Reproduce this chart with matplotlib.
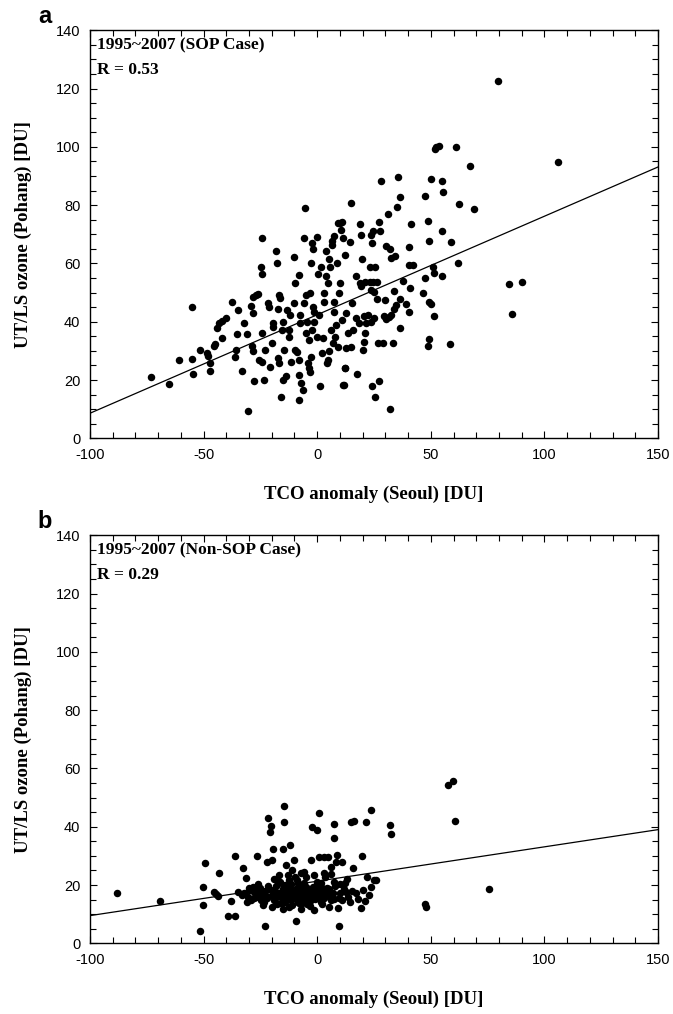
import numpy as np
import matplotlib.pyplot as plt
from matplotlib.ticker import MultipleLocator

plt.rcParams['axes.unicode_minus'] = False

# ---- panel a: SOP case (TCO anomaly vs UT/LS ozone) ----
tco_a = [
    -73.2, -65.4, -61.0, -54.9, -54.9, -54.6, -51.5, -48.5, -48.2, -47.4, -47.4, -45.3, -44.9,
    -44.3, -43.4, -41.9, -40.1, -42.1, -37.5, -36.3, -35.7, -34.9, -35.4, -33.2, -32.2, -30.9,
    -30.6, -29.0, -28.4, -26.9, -26.2, -28.1, -28.7, -28.1, -27.9, -25.4, -24.3, -24.7, -24.4,
    -24.3, -24.3, -23.2, -22.8, -21.8, -21.3, -20.7, -20.1, -19.6, -19.3, -18.1, -17.9, -17.4,
    -17.4, -16.6, -16.6, -16.2, -15.4, -15.1, -15.9, -14.9, -14.4, -13.7, -13.4, -12.6, -12.2,
    -11.9, -11.6, -10.4, -10.0, -9.6, -9.6, -9.0, -8.1, -7.8, -7.8, -7.8, -7.5, -7.4, -7.1,
    -6.3, -6.0, -5.6, -5.3, -5.1, -4.9, -4.4, -4.0, -3.7, -3.4, -3.1, -3.1, -2.8, -2.6, -2.5,
    -2.2, -1.9, -1.9, -1.6, -1.2, -0.1, -0.1, 0.3, 1.0, 1.3, 1.8, 2.2, 2.5, 2.8, 3.2, 3.7,
    4.0, 4.3, 4.6, 4.9, 5.1, 5.4, 5.7, 6.0, 6.3, 6.6, 7.2, 6.9, 7.2, 7.5, 7.8, 8.4, 8.7,
    9.1, 9.9, 11.0, 9.1, 9.6, 9.9, 10.6, 11.0, 11.3, 11.6, 12.1, 12.1, 12.5, 12.8, 13.5,
    14.6, 15.0, 15.0, 15.4,
    79.4, 105.9, 51.9, 52.5, 53.4, 61.2, 67.2, 28.2, 35.6, 50.3, 55.0, 55.4, 36.6, 47.4,
    35.1, 62.5, 69.1, 31.2, 27.1, 27.5, 41.5, 48.8, 55.0, 18.7, 23.8, 24.6, 19.4, 40.3,
    49.3, 59.1, 30.4, 31.9, 24.3, 32.6, 34.1, 19.9, 40.4, 42.2, 51.0, 61.9, 23.1, 25.3,
    47.4, 51.5, 55.0, 37.8, 16.9, 18.7, 19.4, 20.9, 23.1, 24.6, 26.3, 33.8, 40.7, 46.6,
    23.8, 24.9, 26.5, 29.7, 36.3, 49.1, 50.0, 39.3, 34.9, 33.7, 40.4, 84.6, 90.0, 85.6,
    51.5, 31.6, 30.4, 32.6, 29.3, 25.0, 22.4, 23.8, 20.6, 21.6, 18.4, 20.9, 15.7, 16.9,
    36.3, 29.0, 26.8, 33.4, 49.1, 48.8, 58.5, 20.1, 20.4, 17.5, 24.1, 27.1, 25.3, 31.9,
    12.4, 11.3,
]
ozone_a = [
    20.9, 18.8, 26.7, 45.2, 27.2, 22.0, 30.3, 29.4, 28.3, 25.7, 23.2, 31.7, 32.4,
    37.8, 39.5, 40.2, 41.2, 34.3, 46.9, 28.0, 30.3, 44.1, 35.8, 23.2, 39.7, 35.8,
    9.2, 45.5, 48.6, 49.2, 49.5, 42.9, 31.7, 30.1, 19.8, 26.9, 26.3, 58.9, 56.4,
    68.6, 36.0, 20.0, 30.3, 46.3, 44.9, 24.4, 32.8, 38.3, 39.7, 64.4, 60.3, 44.3,
    27.5, 26.0, 49.2, 48.1, 37.2, 40.0, 14.1, 20.0, 30.3, 21.4, 44.1, 37.2, 34.9,
    42.3, 26.3, 62.2, 46.3, 53.4, 30.3, 29.7, 26.9, 13.2, 56.1, 21.7, 39.7, 42.3, 18.9,
    16.6, 46.3, 68.6, 79.1, 49.2, 36.0, 40.0, 25.7, 33.8, 24.0, 22.9, 49.8, 60.3, 28.0, 37.2,
    66.9, 65.1, 45.2, 43.5, 40.0, 69.2, 34.7, 56.4, 42.3, 18.0, 58.7, 29.2, 34.3, 49.8, 46.9, 64.4,
    55.7, 25.7, 26.9, 53.2, 61.4, 30.1, 58.9, 37.2, 66.4, 67.8, 69.5, 32.6, 46.9, 43.5, 34.9, 38.9, 60.1,
    73.8, 74.0, 74.3, 31.5, 49.8, 53.2, 71.5, 40.6, 68.6, 18.3, 62.9, 24.0, 30.9, 42.9, 36.0,
    67.5, 80.7, 31.5, 46.3,
    122.7, 94.7, 99.3, 99.9, 100.2, 99.8, 93.5, 88.2, 89.6, 89.1, 88.2, 84.4, 82.8, 83.3,
    79.5, 80.4, 78.7, 77.0, 74.3, 71.2, 73.7, 74.6, 71.2, 73.5, 69.8, 71.1, 69.8, 65.7,
    67.6, 67.2, 66.0, 64.9, 66.9, 61.9, 62.6, 61.4, 59.3, 59.4, 58.9, 60.0, 58.7, 58.7,
    55.1, 56.6, 55.7, 54.1, 55.7, 53.2, 52.4, 53.5, 53.8, 53.8, 53.8, 50.6, 51.7, 49.9,
    50.9, 50.3, 47.7, 47.4, 47.8, 46.6, 46.0, 46.0, 45.7, 44.4, 43.2, 52.9, 53.5, 42.6,
    42.1, 41.5, 40.8, 42.3, 42.0, 41.2, 42.3, 40.0, 42.1, 39.7, 39.5, 36.0, 37.2, 41.2,
    38.0, 32.6, 32.8, 32.8, 34.0, 31.7, 32.3, 30.3, 33.2, 22.1, 18.0, 19.5, 14.1, 10.0,
    24.0, 18.3,
]

# ---- panel b: Non-SOP case ----
tco_b = [
    -87.9, -69.1, -51.6, -50.4, -50.1, -49.4, -45.3, -44.6, -43.4, -43.8, -39.1, -36.0, -36.0,
    -37.9, -35.0, -32.8, -32.1, -31.3, -30.6, -29.9, -28.4, -27.6, -26.5, -26.2, -25.4, -24.7,
    -24.0, -23.2, -23.0, -22.1, -21.5, -20.6, -20.3, -20.0, -19.6, -19.1, -18.1, -17.4, -16.6,
    -16.2, -15.9, -15.1, -14.7, -14.4, -14.1, -13.7, -13.7, -12.9, -12.6, -12.2, -11.8, -11.5,
    -11.2, -10.7, -10.0, -9.7, -9.3, -9.3, -8.8, -8.5, -8.2, -7.8, -7.1, -6.8, -6.3, -5.9,
    -5.6, -4.9, -4.1, -2.9, -2.4, -1.9, -1.5, -1.2, -0.7, -0.4, 0.0, 0.6, 1.0, 1.5, 1.8,
    2.5, 3.2, 3.5, 4.4, 4.7, 5.4, 5.9, 6.5, 7.2, 7.4, 7.6, 8.4, 8.8, 9.1, 9.4, 9.9, 10.9,
    12.1, 12.8, 13.5, 14.3, 14.7, 15.7, 16.2, 17.2, 19.4, 19.7, 20.1, 21.3, 22.1, 22.6,
    23.5, 23.8, 24.9, 26.0,
    57.4, 59.6, 60.6, 32.1, 32.6, 47.6, 47.8, 75.4,
    -28.0, -27.0, -25.0, -23.0, -22.0, -21.0, -20.0, -19.0, -18.0, -17.0, -16.0, -15.0,
    -14.0, -13.0, -12.0, -11.0, -10.0, -9.0, -8.0, -7.0, -6.0, -5.0, -4.0, -3.0, -2.0,
    -1.0, 0.0, 1.0, 2.0, 3.0, 4.0, 5.0, 6.0, 7.0, 8.0, -24.0, -20.0, -15.0, -11.0, -7.0,
    -3.0, 2.0, -26.0, -19.0, -13.0, -9.0, -5.0, 0.0, 6.0, 10.0, 11.0, 13.0, 18.0, 21.0,
    -30.0, -33.0, -31.0,
    -29.0, -25.5, -22.5, -18.5, -14.5, -10.5, -6.5, -2.5, 1.5, 5.5, 9.5, 12.0, 15.5,
    -21.5, -17.5, -12.5, -8.5, -4.5, -0.5, 3.5, 7.5, -16.5, -11.5, -6.0, 3.0,
]
ozone_b = [
    17.1, 14.5, 4.3, 19.2, 13.1, 27.7, 17.7, 16.9, 24.0, 16.2, 9.5, 29.9, 9.4,
    14.6, 17.7, 25.7, 17.1, 22.3, 16.0, 18.3, 19.4, 15.4, 29.9, 18.9, 17.1, 14.9,
    16.6, 14.3, 6.1, 27.8, 42.9, 38.3, 40.2, 28.6, 32.2, 18.3, 16.0, 21.1, 23.4,
    17.1, 13.7, 32.2, 47.1, 41.7, 20.0, 26.9, 16.0, 18.3, 12.6, 21.7, 33.7, 14.9,
    25.1, 17.7, 28.6, 22.9, 16.0, 7.7, 18.9, 20.6, 13.7, 16.0, 24.0, 17.7, 14.9, 20.8,
    17.1, 19.4, 15.4, 28.6, 40.0, 19.4, 23.4, 11.4, 16.0, 18.3, 38.9, 44.6, 29.7, 20.6, 14.3,
    17.1, 29.7, 22.9, 18.9, 29.7, 12.6, 26.3, 16.0, 36.0, 40.9, 21.1, 28.0, 30.3, 12.0, 6.1, 17.1, 28.0,
    20.8, 17.7, 16.0, 14.1, 41.7, 25.7, 42.1, 17.1, 12.0, 29.9, 18.3, 41.7, 22.9, 16.6,
    19.4, 45.9, 21.7, 21.7,
    54.3, 55.7, 42.1, 40.6, 37.5, 13.5, 12.6, 18.6,
    17.5, 16.0, 19.0, 17.8, 15.5, 18.8, 16.7, 14.8, 19.5, 17.2, 15.8, 18.6,
    14.2, 16.8, 19.8, 16.3, 18.1, 15.2, 17.4, 19.2, 15.9, 16.8, 18.4, 14.6, 17.6,
    15.3, 17.9, 16.2, 19.0, 15.6, 16.9, 18.7, 14.8, 17.4, 19.6, 13.2, 12.4, 11.8, 13.1, 11.9,
    12.8, 13.4, 20.5, 22.0, 23.5, 21.8, 22.6, 21.2, 23.8, 20.3, 14.9, 22.1, 15.2, 14.4,
    18.9, 16.5, 14.2,
    15.0, 17.0, 16.2, 15.5, 17.0, 16.5, 14.0, 16.2, 15.0, 16.4, 15.5, 18.8, 17.9,
    19.7, 13.6, 15.6, 14.1, 13.5, 19.8, 17.9, 15.3, 21.0, 20.2, 24.5, 24.0,
]

# regression lines (slope, intercept)
fit_a = (0.338, 42.4)
fit_b = (0.118, 21.3)

titles = ["1995~2007 (SOP Case)\nR = 0.53", "1995~2007 (Non-SOP Case)\nR = 0.29"]
letters = ["a", "b"]

W, H = 673, 1014
fig = plt.figure(figsize=(W / 100, H / 100), dpi=100)

boxes = [
    [90 / W, 1 - 438.3 / H, 568 / W, 408 / H],
    [90 / W, 1 - 943.3 / H, 568 / W, 408 / H],
]

serif = ["Liberation Serif", "DejaVu Serif"]
sans = ["Liberation Sans", "DejaVu Sans"]

for k, (xs, ys, fit) in enumerate([(tco_a, ozone_a, fit_a), (tco_b, ozone_b, fit_b)]):
    ax = fig.add_axes(boxes[k])
    ax.plot(xs, ys, "o", color="black", markersize=5.4, markeredgewidth=0)
    xl = np.array([-100, 150])
    ax.plot(xl, fit[0] * xl + fit[1], color="black", lw=0.9)

    ax.set_xlim(-100, 150)
    ax.set_ylim(0, 140)
    ax.xaxis.set_major_locator(MultipleLocator(50))
    ax.xaxis.set_minor_locator(MultipleLocator(10))
    ax.yaxis.set_major_locator(MultipleLocator(20))
    ax.yaxis.set_minor_locator(MultipleLocator(5))
    ax.tick_params(which="both", direction="in", top=True, right=True,
                   labelsize=10.5, width=0.8)
    ax.tick_params(axis="x", pad=7)
    ax.tick_params(axis="y", pad=7)
    ax.tick_params(which="major", length=5)
    ax.tick_params(which="minor", length=4)
    for lab in ax.get_xticklabels() + ax.get_yticklabels():
        lab.set_family(sans)
    for sp in ax.spines.values():
        sp.set_linewidth(1.0)

    ax.set_xlabel("TCO anomaly (Seoul) [DU]", fontsize=13.5, fontweight="bold",
                  family=serif, labelpad=17)
    ax.set_ylabel("UT/LS ozone (Pohang) [DU]", fontsize=13.5, fontweight="bold",
                  family=serif, labelpad=17)
    ax.text(0.012, 0.982, titles[k], transform=ax.transAxes, va="top", ha="left",
            fontsize=12.5, fontweight="bold", family=serif, linespacing=1.7)
    ax.text(-0.08, 1.005, letters[k], transform=ax.transAxes, va="bottom", ha="center",
            fontsize=17, fontweight="bold", family=sans)

fig.savefig("out.png", dpi=100)
